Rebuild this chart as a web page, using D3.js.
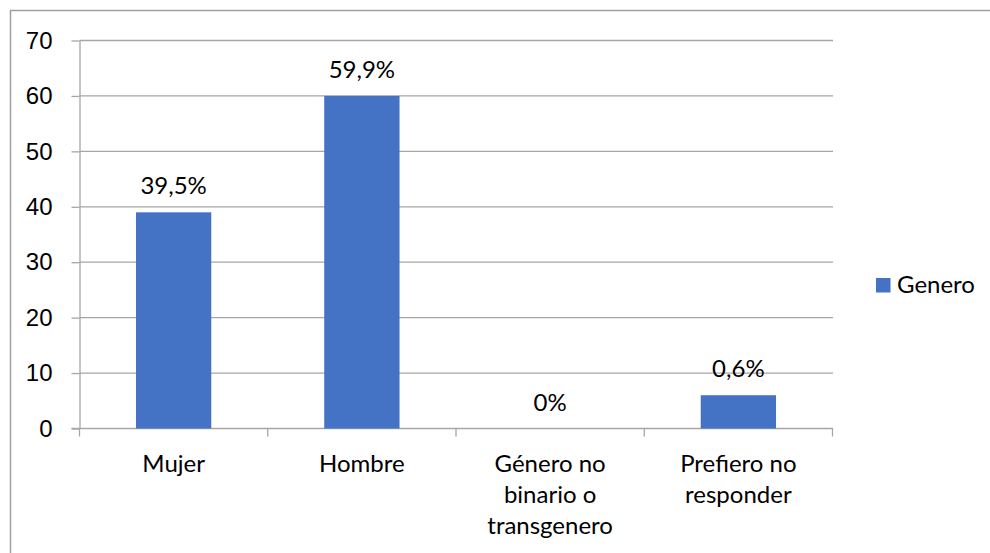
<!DOCTYPE html>
<html>
<head>
<meta charset="utf-8">
<script src="https://cdn.jsdelivr.net/npm/d3@7"></script>
<style>
    body { margin: 0; background: white; }
    svg { display: block; font-family: Lato, "Open Sans", sans-serif; }
</style>
</head>
<body>
<div id="chart"></div>
<script>
// Chart data
const categories = ['Mujer', 'Hombre', 'Género no binario o transgenero', 'Prefiero no responder'];
const categoryLines = [['Mujer'], ['Hombre'], ['Género no', 'binario o', 'transgenero'], ['Prefiero no', 'responder']];
const values = [39, 60, 0, 6];
const valueLabels = ['39,5%', '59,9%', '0%', '0,6%'];
const yTicks = [0, 10, 20, 30, 40, 50, 60, 70];
const seriesName = 'Genero';

const width = 990, height = 553;
const margin = {top: 40.5, right: 157, bottom: 124.5, left: 79.5};
const barColor = '#4472c4';
const gridColor = '#a6a6a6';
const fontSize = '24px';

const svg = d3.select('#chart').append('svg')
    .attr('width', width)
    .attr('height', height);

// outer frame, runs off the right and bottom edges
svg.append('rect')
    .attr('x', 10.5).attr('y', 10.5)
    .attr('width', 1000).attr('height', 600)
    .attr('fill', 'none')
    .attr('stroke', '#a0a0a0')
    .attr('stroke-width', 1.5);

const x = d3.scaleBand()
    .domain(categories)
    .range([margin.left, width - margin.right - 0.5])
    .paddingInner(0.6)
    .paddingOuter(0.3);

const y = d3.scaleLinear()
    .domain([0, 70])
    .range([height - margin.bottom, margin.top]);

// gridlines + y labels
const yAxis = svg.append('g')
    .attr('transform', `translate(${margin.left},0)`)
    .call(d3.axisLeft(y).tickValues(yTicks).tickSize(8).tickSizeOuter(0).tickPadding(19));
yAxis.select('.domain').attr('stroke', gridColor).attr('stroke-width', 1.3);
yAxis.selectAll('.tick line').attr('stroke', gridColor).attr('stroke-width', 1.3);
yAxis.selectAll('.tick text').attr('fill', '#000').style('font-size', fontSize);

svg.append('g').selectAll('line')
    .data(yTicks.filter(d => d > 0))
    .enter()
    .append('line')
    .attr('x1', margin.left)
    .attr('x2', width - margin.right)
    .attr('y1', d => y(d))
    .attr('y2', d => y(d))
    .attr('stroke', gridColor)
    .attr('stroke-width', 1.3);

// x axis with ticks between categories
const step = x.step();
const x0 = x.range()[0];
const boundaries = d3.range(categories.length + 1).map(i => x0 + i * step);
svg.append('line')
    .attr('x1', margin.left - 8).attr('x2', width - margin.right)
    .attr('y1', y(0)).attr('y2', y(0))
    .attr('stroke', gridColor).attr('stroke-width', 1.3);
svg.append('g').selectAll('line')
    .data(boundaries)
    .enter()
    .append('line')
    .attr('x1', d => d).attr('x2', d => d)
    .attr('y1', y(0)).attr('y2', y(0) + 8)
    .attr('stroke', gridColor).attr('stroke-width', 1.3);

// bars
svg.append('g').selectAll('rect')
    .data(values)
    .enter()
    .append('rect')
    .attr('x', (d, i) => x(categories[i]))
    .attr('y', d => y(d))
    .attr('width', x.bandwidth())
    .attr('height', d => y(0) - y(d))
    .attr('fill', barColor);

// value labels
svg.append('g').selectAll('text')
    .data(values)
    .enter()
    .append('text')
    .attr('x', (d, i) => x(categories[i]) + x.bandwidth() / 2)
    .attr('y', d => y(d) - 18)
    .attr('text-anchor', 'middle')
    .style('font-size', fontSize)
    .text((d, i) => valueLabels[i]);

// category labels
const catLabels = svg.append('g').selectAll('text')
    .data(categories)
    .enter()
    .append('text')
    .attr('x', d => x(d) + x.bandwidth() / 2)
    .attr('y', 471.5)
    .attr('text-anchor', 'middle')
    .style('font-size', fontSize);
catLabels.selectAll('tspan')
    .data((d, i) => categoryLines[i])
    .enter()
    .append('tspan')
    .attr('x', function() { return this.parentNode.getAttribute('x'); })
    .attr('dy', (d, i) => i === 0 ? 0 : 31)
    .text(d => d);

// legend
const legend = svg.append('g').attr('transform', 'translate(876,278)');
legend.append('rect')
    .attr('width', 14.5).attr('height', 14.5)
    .attr('fill', barColor);
legend.append('text')
    .attr('x', 21).attr('y', 15)
    .style('font-size', fontSize)
    .text(seriesName);
</script>
</body>
</html>
